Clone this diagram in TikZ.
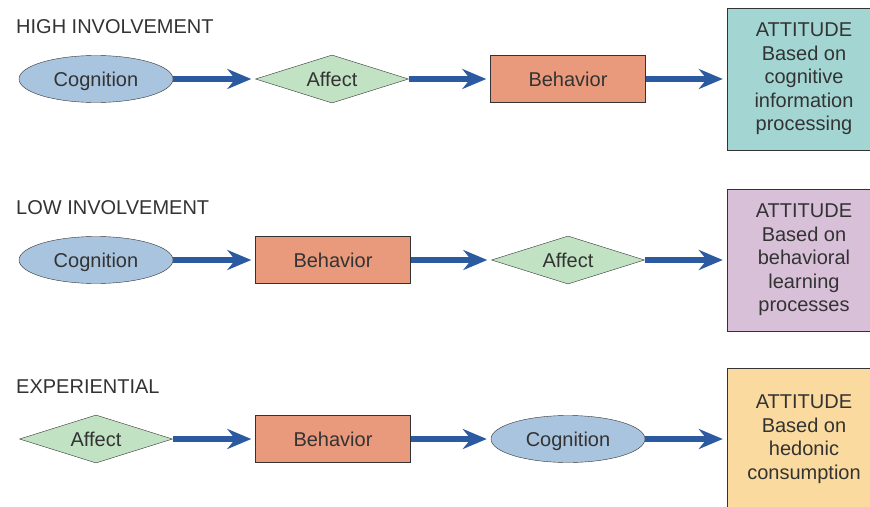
\documentclass[tikz,border=0pt]{standalone}
\usepackage{fontspec}
\setmainfont{Liberation Sans}
\usetikzlibrary{shapes.geometric,arrows.meta}

\definecolor{cogblue}{HTML}{A9C4DE}
\definecolor{affgreen}{HTML}{C2E2C4}
\definecolor{behsalmon}{HTML}{EA9A7C}
\definecolor{attteal}{HTML}{A3D6D3}
\definecolor{attlilac}{HTML}{D8C0D8}
\definecolor{attsand}{HTML}{FADA9E}
\definecolor{flowblue}{HTML}{2C5AA0}
\definecolor{inkgray}{HTML}{333333}

\begin{document}
\begin{tikzpicture}[x=1pt,y=-1pt,
  every node/.style={text=inkgray,font=\fontsize{20}{23.5}\selectfont},
  cogn/.style={ellipse,draw=inkgray,fill=cogblue,minimum width=154pt,minimum height=47pt,inner sep=0pt,text depth=0pt},
  affc/.style={diamond,draw=inkgray,fill=affgreen,aspect=3.2,minimum width=153pt,minimum height=48pt,inner sep=0pt,text depth=0pt},
  behv/.style={rectangle,draw=inkgray,fill=behsalmon,minimum width=155pt,minimum height=47pt,inner sep=0pt,text depth=0pt},
  attd/.style={rectangle,draw=inkgray,minimum width=154pt,minimum height=142pt,inner sep=0pt,align=center},
  heading/.style={anchor=west,inner sep=0pt},
  flow/.style={draw=flowblue,line width=6pt,shorten >=4pt,-{Stealth[length=24pt,width=20pt,inset=8pt]}}]
\clip (0,0) rectangle (870,506);

% high involvement
\node[heading] (hhigh) at (16,27) {HIGH INVOLVEMENT};
\node[cogn] (cog1) at (96,79) {Cognition};
\node[affc] (aff1) at (332,79) {Affect};
\node[behv] (beh1) at (568,79) {Behavior};
\node[attd,fill=attteal] (att1) at (804,79) {ATTITUDE\\Based on\\cognitive\\information\\processing};
\draw[flow] (cog1) -- (aff1);
\draw[flow] (aff1) -- (beh1);
\draw[flow] (beh1) -- (att1);

% low involvement
\node[heading] (hlow) at (16,208) {LOW INVOLVEMENT};
\node[cogn] (cog2) at (96,260) {Cognition};
\node[behv] (beh2) at (333,260) {Behavior};
\node[affc] (aff2) at (568,260) {Affect};
\node[attd,fill=attlilac] (att2) at (804,260) {ATTITUDE\\Based on\\behavioral\\learning\\processes};
\draw[flow] (cog2) -- (beh2);
\draw[flow] (beh2) -- (aff2);
\draw[flow] (aff2) -- (att2);

% experiential
\node[heading] (hexp) at (16,387) {EXPERIENTIAL};
\node[affc] (aff3) at (96,439) {Affect};
\node[behv] (beh3) at (333,439) {Behavior};
\node[cogn] (cog3) at (568,439) {Cognition};
\node[attd,fill=attsand] (att3) at (804,439) {ATTITUDE\\Based on\\hedonic\\consumption};
\draw[flow] (aff3) -- (beh3);
\draw[flow] (beh3) -- (cog3);
\draw[flow] (cog3) -- (att3);
\end{tikzpicture}
\end{document}
